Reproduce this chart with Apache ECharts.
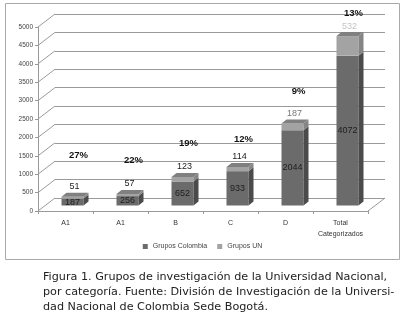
<!DOCTYPE html>
<html>
<head>
<meta charset="utf-8">
<script src="https://cdn.jsdelivr.net/npm/echarts@6/dist/echarts.min.js"></script>
<style>
html,body{margin:0;padding:0;background:#fff}
#main{width:405px;height:320px}
</style>
</head>
<body>
<div id="main"></div>
<script>
// datos
var categorias = ['A1', 'A1', 'B', 'C', 'D', 'Total\nCategorizados'];
var gruposColombia = [187, 256, 652, 933, 2044, 4072];
var gruposUN = [51, 57, 123, 114, 187, 532];
var porcentajes = ['27%', '22%', '19%', '12%', '9%', '13%'];
var yTicks = [0, 500, 1000, 1500, 2000, 2500, 3000, 3500, 4000, 4500, 5000];

// efecto 3D (pixeles)
var WALL = [17, -13];     // profundidad de las paredes
var OFF = [7, -5.5];      // desplazamiento de las barras
var DEP = [5, -4];        // profundidad de cada barra
var BW = 22;              // ancho de la cara frontal
var PCT_GAP = [41, 34, 34, 28, 32, 23];   // altura del % sobre la barra
var FONT = 'Liberation Sans';

window.onload = function () {
    var chart = echarts.init(document.getElementById('main'));

    function caja(api, i, v0, v1) {
        var p0 = api.coord([i, v0]);
        var p1 = api.coord([i, v1]);
        var x = p0[0] + OFF[0] - BW / 2;
        return {x: x, yb: p0[1] + OFF[1], yt: p1[1] + OFF[1]};
    }

    function cara(x, yb, yt, front, side) {
        return [
            {type: 'rect', shape: {x: x, y: yt, width: BW, height: yb - yt}, style: {fill: front}},
            {type: 'polygon', shape: {points: [[x + BW, yb], [x + BW + DEP[0], yb + DEP[1]],
                [x + BW + DEP[0], yt + DEP[1]], [x + BW, yt]]}, style: {fill: side}}
        ];
    }

    var option = {
        animation: false,
        legend: {
            top: 238, left: 'center', icon: 'rect', itemWidth: 5, itemHeight: 5, itemGap: 10,
            textStyle: {fontSize: 7, color: '#444', fontFamily: FONT},
            data: ['Grupos Colombia', 'Grupos UN']
        },
        grid: [
            {left: 55, right: 20, top: 14, bottom: 122},   // pared del fondo
            {left: 38, right: 37, top: 27, bottom: 109}    // frente
        ],
        xAxis: [
            {type: 'category', gridIndex: 0, data: categorias, show: false},
            {type: 'category', gridIndex: 1, data: categorias,
             axisLine: {lineStyle: {color: '#999'}},
             axisTick: {show: true, length: 3, lineStyle: {color: '#999'}},
             axisLabel: {interval: 0, fontSize: 7, color: '#333', fontFamily: FONT, margin: 7, lineHeight: 11}}
        ],
        yAxis: [
            {type: 'value', gridIndex: 0, min: 0, max: 5000, interval: 500,
             axisLine: {show: false}, axisTick: {show: false}, axisLabel: {show: false},
             splitLine: {lineStyle: {color: '#9a9a9a'}}},
            {type: 'value', gridIndex: 1, min: 0, max: 5000, interval: 500,
             axisLine: {show: true, lineStyle: {color: '#999'}},
             axisTick: {show: true, length: 3, lineStyle: {color: '#999'}},
             axisLabel: {fontSize: 6.5, color: '#444', fontFamily: FONT, margin: 5,
                 formatter: function (v) { return String(v); }},
             splitLine: {show: false}}
        ],
        series: [
            {   // diagonales de las paredes
                type: 'custom', xAxisIndex: 1, yAxisIndex: 1, silent: true, z: 1,
                data: yTicks.map(function (t) { return [0, t]; }),
                renderItem: function (params, api) {
                    var cs = params.coordSys;
                    var y = api.coord([0, api.value(1)])[1];
                    var kids = [{type: 'line', shape: {x1: cs.x, y1: y, x2: cs.x + WALL[0], y2: y + WALL[1]},
                        style: {stroke: '#9a9a9a', lineWidth: 1}}];
                    if (api.value(1) === 0) {
                        var xr = cs.x + cs.width;
                        kids.push({type: 'line', shape: {x1: xr, y1: y, x2: xr + WALL[0], y2: y + WALL[1]},
                            style: {stroke: '#9a9a9a', lineWidth: 1}});
                    }
                    return {type: 'group', children: kids};
                }
            },
            {
                name: 'Grupos Colombia', type: 'custom', xAxisIndex: 1, yAxisIndex: 1, z: 3,
                itemStyle: {color: '#6b6b6b'},
                data: gruposColombia.map(function (v, i) { return [i, v]; }),
                renderItem: function (params, api) {
                    var i = api.value(0), v = api.value(1);
                    var b = caja(api, i, 0, v);
                    var kids = cara(b.x, b.yb, b.yt, '#6b6b6b', '#4b4b4b');
                    kids.push({type: 'text', z2: 10, style: {text: String(v), x: b.x + BW / 2, y: (b.yb + b.yt) / 2,
                        align: 'center', verticalAlign: 'middle', fontSize: 9, fontFamily: FONT, fill: '#1e1e1e'}});
                    return {type: 'group', children: kids};
                }
            },
            {
                name: 'Grupos UN', type: 'custom', xAxisIndex: 1, yAxisIndex: 1, z: 3,
                itemStyle: {color: '#a3a3a3'},
                data: gruposUN.map(function (v, i) { return [i, gruposColombia[i], v]; }),
                renderItem: function (params, api) {
                    var i = api.value(0), c = api.value(1), u = api.value(2);
                    var b = caja(api, i, c, c + u);
                    var kids = cara(b.x, b.yb, b.yt, '#a3a3a3', '#858585');
                    kids.push({type: 'polygon', shape: {points: [[b.x, b.yt], [b.x + BW, b.yt],
                        [b.x + BW + DEP[0], b.yt + DEP[1]], [b.x + DEP[0], b.yt + DEP[1]]]},
                        style: {fill: '#808080'}});
                    kids.push({type: 'text', style: {text: String(u), x: b.x + BW / 2 + 2, y: b.yt - 10,
                        align: 'center', verticalAlign: 'middle', fontSize: 9, fontFamily: FONT,
                        fill: i === 5 ? '#c4c4c4' : (i === 4 ? '#777' : '#222')}});
                    kids.push({type: 'text', style: {text: porcentajes[i], x: b.x + BW / 2 + 6, y: b.yt - PCT_GAP[i],
                        align: 'center', verticalAlign: 'middle', fontSize: 9.5, fontWeight: 'bold',
                        fontFamily: FONT, fill: '#111'}});
                    return {type: 'group', children: kids};
                }
            }
        ],
        graphic: [
            {type: 'rect', shape: {x: 5.5, y: 3.5, width: 394, height: 256},
             style: {fill: null, stroke: '#aaa', lineWidth: 1}, z: -1, silent: true},
            {type: 'text', left: 43, top: 272, style: {text: 'Figura 1. Grupos de investigación de la Universidad Nacional,',
             fontSize: 11.2, fontFamily: 'DejaVu Sans', fill: '#222'}},
            {type: 'text', left: 43, top: 287, style: {text: 'por categoría. Fuente: División de Investigación de la Universi-',
             fontSize: 11.2, fontFamily: 'DejaVu Sans', fill: '#222'}},
            {type: 'text', left: 43, top: 302, style: {text: 'dad Nacional de Colombia Sede Bogotá.',
             fontSize: 11.2, fontFamily: 'DejaVu Sans', fill: '#222'}}
        ]
    };
    chart.setOption(option);
};
</script>
</body>
</html>
